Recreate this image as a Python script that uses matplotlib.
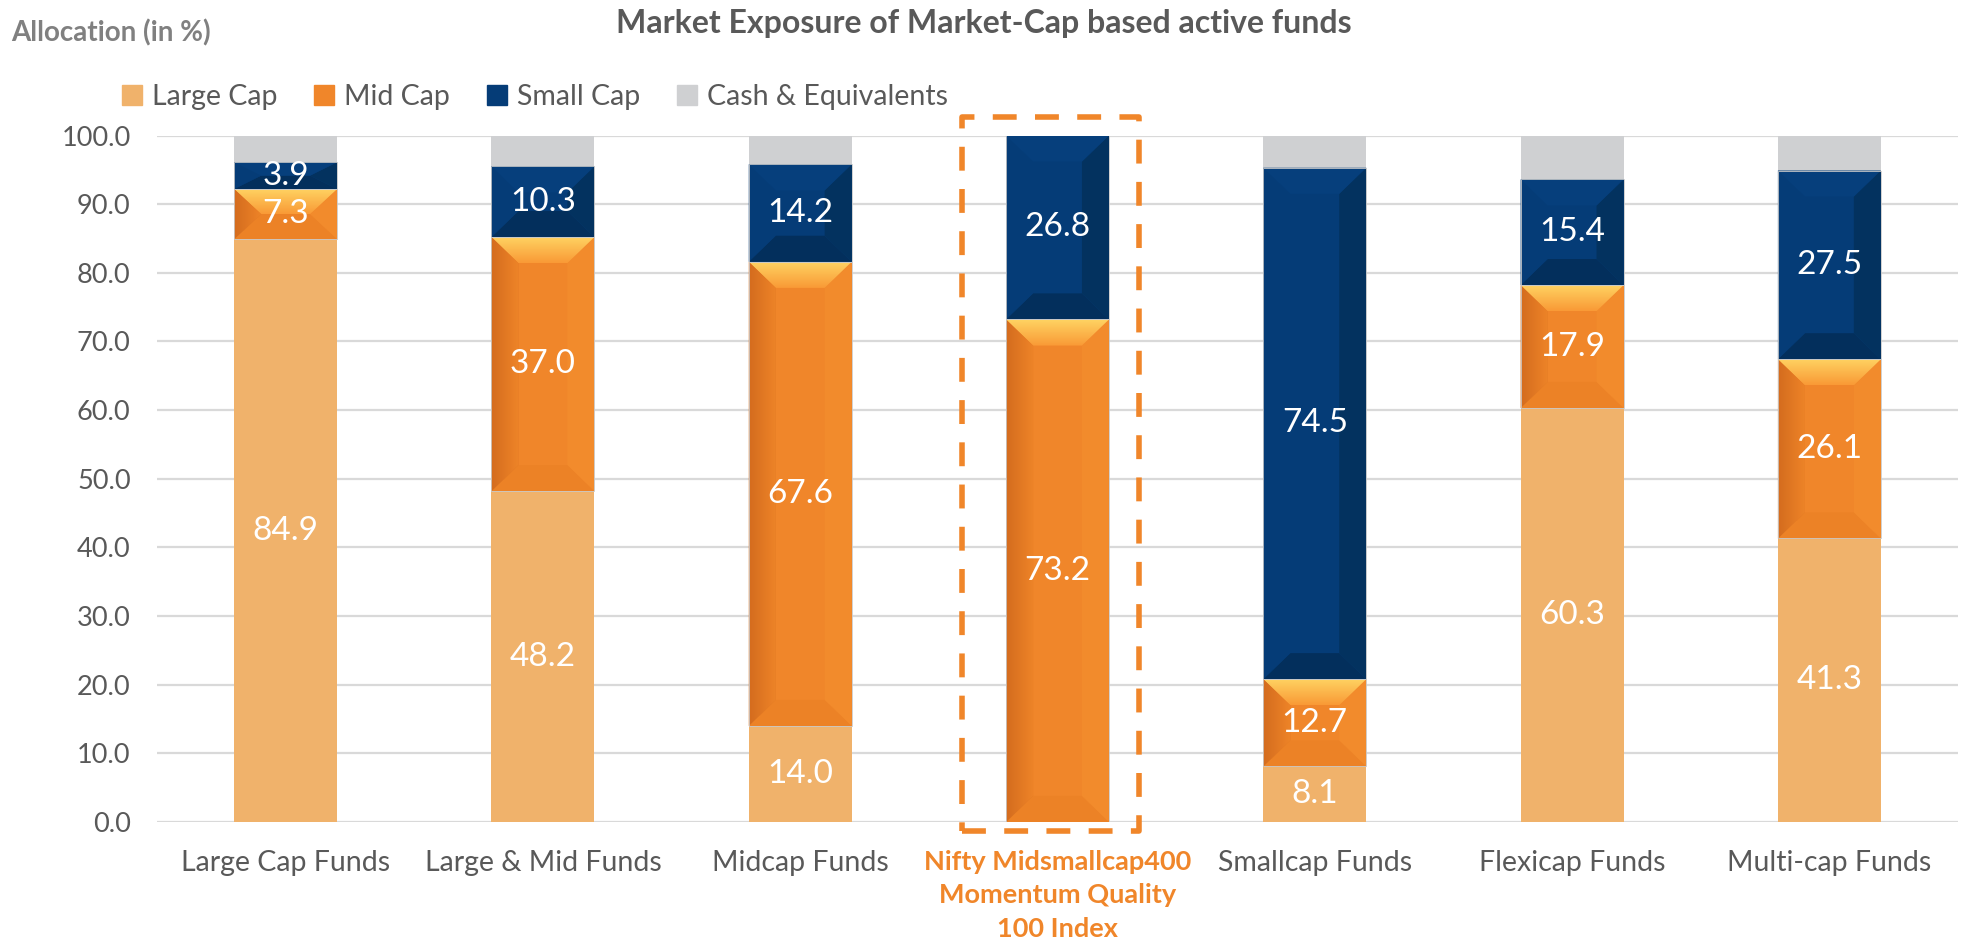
import matplotlib
matplotlib.use("Agg")
import matplotlib.pyplot as plt
from matplotlib.patches import Polygon, Rectangle, Patch
from matplotlib.colors import LinearSegmentedColormap
import numpy as np

# data (allocation in %)
categories = ["Large Cap Funds", "Large & Mid Funds", "Midcap Funds",
              "Nifty Midsmallcap400\nMomentum Quality\n100 Index",
              "Smallcap Funds", "Flexicap Funds", "Multi-cap Funds"]
large_cap = [84.9, 48.2, 14.0, 0.0, 8.1, 60.3, 41.3]
mid_cap = [7.3, 37.0, 67.6, 73.2, 12.7, 17.9, 26.1]
small_cap = [3.9, 10.3, 14.2, 26.8, 74.5, 15.4, 27.5]
cash = [3.9, 4.5, 4.2, 0.0, 4.7, 6.4, 5.1]
highlight = 3

plt.rcParams['font.family'] = ['Lato', 'DejaVu Sans']

LARGE_C = '#F0B26B'
MID_C = '#F0862A'
SMALL_C = '#053C77'
CASH_C = '#CFD0D2'
TXT = '#595959'

fig = plt.figure(figsize=(19.68, 9.43), dpi=100)
ax = fig.add_axes([157/1968, 1 - 822/943, (1958-157)/1968, (822-135.5)/943])

x = np.arange(len(categories))
w = 0.40
bot_mid = np.array(large_cap)
bot_small = bot_mid + np.array(mid_cap)
bot_cash = bot_small + np.array(small_cap)

ax.bar(x, large_cap, w, color=LARGE_C, zorder=2)
ax.bar(x, mid_cap, w, bottom=bot_mid, color=MID_C, zorder=2)
ax.bar(x, small_cap, w, bottom=bot_small, color=SMALL_C, zorder=2)
ax.bar(x, cash, w, bottom=bot_cash, color=CASH_C, zorder=2)


def grad_fill(poly, extent, c1, c2, vertical=True):
    # gradient image clipped to a bevel polygon
    cmap = LinearSegmentedColormap.from_list('g', [c1, c2])
    g = np.linspace(0, 1, 64)
    arr = g[:, None] if vertical else g[None, :]
    im = ax.imshow(arr, cmap=cmap, extent=extent, origin='upper' if vertical else 'lower',
                   aspect='auto', zorder=3, interpolation='bicubic')
    ax.add_patch(poly)
    im.set_clip_path(poly)


def bevel(xc, b, h, cols, dx=0.105, dy=3.8, mid=False):
    if h <= 0:
        return
    dy = min(dy, h / 2)
    x0, x1 = xc - w / 2, xc + w / 2
    y0, y1 = b, b + h
    ix0, ix1, iy0, iy1 = x0 + dx, x1 - dx, y0 + dy, y1 - dy
    top = [(x0, y1), (x1, y1), (ix1, iy1), (ix0, iy1)]
    bottom = [(x0, y0), (x1, y0), (ix1, iy0), (ix0, iy0)]
    left = [(x0, y0), (x0, y1), (ix0, iy1), (ix0, iy0)]
    right = [(x1, y0), (x1, y1), (ix1, iy1), (ix1, iy0)]
    for pts, c in [(bottom, cols['bottom']), (left, cols['left']), (right, cols['right'])]:
        ax.add_patch(Polygon(pts, closed=True, facecolor=c, edgecolor='none', zorder=3))
    if mid:
        p = Polygon(top, closed=True, facecolor='none', edgecolor='none', zorder=3)
        grad_fill(p, (x0, x1, iy1, y1), cols['top'][0], cols['top'][1])
        pl = Polygon(left, closed=True, facecolor='none', edgecolor='none', zorder=3)
        grad_fill(pl, (x0, ix0, y0, y1), '#D46C1E', '#EE8428', vertical=False)
    else:
        ax.add_patch(Polygon(top, closed=True, facecolor=cols['top'], edgecolor='none', zorder=3))
    ax.add_patch(Rectangle((x0, y0), w, h, facecolor='none', edgecolor='#C9C9C9', lw=0.6, zorder=4))


mid_cols = {'top': ('#FFD463', '#F99A36'), 'bottom': '#EC8226', 'left': '#E07824', 'right': '#F28B2C'}
small_cols = {'top': '#063F7C', 'bottom': '#032F5C', 'left': '#053C77', 'right': '#03325F'}
for i in range(len(categories)):
    bevel(x[i], bot_mid[i], mid_cap[i], mid_cols, mid=True)
    bevel(x[i], bot_small[i], small_cap[i], small_cols)

# value labels
for vals, bots in [(large_cap, np.zeros(len(x))), (mid_cap, bot_mid), (small_cap, bot_small)]:
    for i, v in enumerate(vals):
        if v > 0:
            ax.text(x[i], bots[i] + v / 2, f"{v:.1f}", ha='center', va='center',
                    color='white', fontsize=24, zorder=5)

# highlight box around the index bar
ax.add_patch(Rectangle((highlight - 0.372, -1.3), 0.372 + 0.317, 104.0, facecolor='none',
                       edgecolor='#F0862A', lw=4, linestyle=(0, (4.3, 3.3)),
                       clip_on=False, zorder=6, joinstyle='round'))

ax.set_xlim(-0.5, len(categories) - 0.5)
ax.set_ylim(0, 100)
ax.set_yticks(np.arange(0, 101, 10))
ax.set_yticklabels([f"{t:.1f}" for t in np.arange(0, 101, 10)])
ax.set_xticks(x)
ax.set_xticklabels(categories)
ax.tick_params(axis='x', length=0, labelsize=20.5, labelcolor=TXT, pad=20)
ax.tick_params(axis='y', length=0, labelsize=19.5, labelcolor=TXT, pad=19)
lab = ax.get_xticklabels()[highlight]
lab.set_color('#F0862A')
lab.set_fontweight('bold')
lab.set_fontsize(19.5)
lab.set_linespacing(1.48)
for s in ax.spines.values():
    s.set_visible(False)
ax.grid(axis='y', color='#D9D9D9', lw=1.6, zorder=0)
ax.set_axisbelow(True)

fig.text(0.5, 1 - 23/943, "Market Exposure of Market-Cap based active funds", ha='center',
         va='center', fontsize=23, fontweight='bold', color=TXT)
fig.text(11/1968, 1 - 33/943, "Allocation (in %)", ha='left', va='center',
         fontsize=20, fontweight='bold', color='#808080')

handles = [Patch(color=LARGE_C), Patch(color=MID_C), Patch(color=SMALL_C), Patch(color=CASH_C)]
fig.legend(handles, ["Large Cap", "Mid Cap", "Small Cap", "Cash & Equivalents"],
           loc='center left', bbox_to_anchor=(122/1968, 1 - 97/943), ncol=4, frameon=False,
           fontsize=20.5, labelcolor=TXT, handlelength=0.7, handleheight=0.75,
           handletextpad=0.35, columnspacing=1.3, borderaxespad=0, borderpad=0)

fig.savefig("out.png", dpi=100)
